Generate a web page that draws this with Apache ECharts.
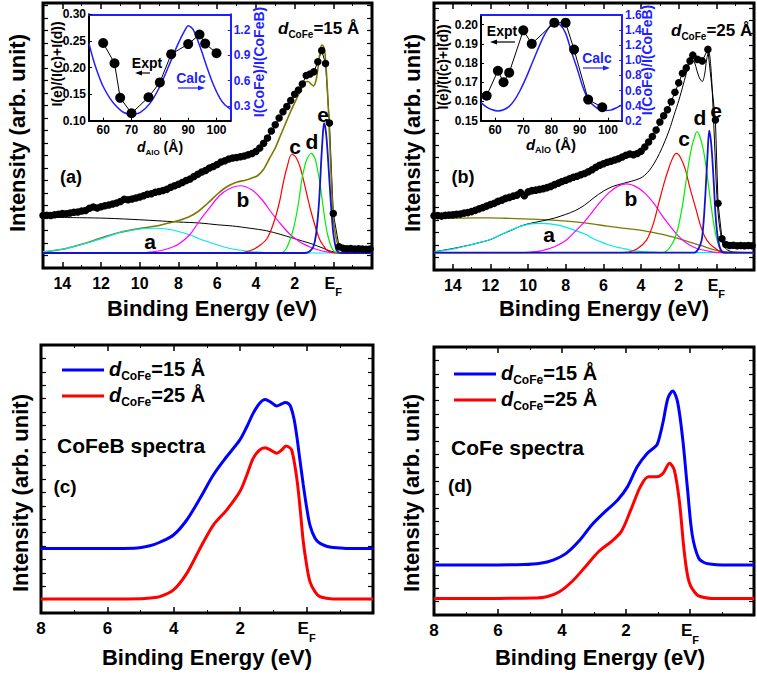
<!DOCTYPE html>
<html><head><meta charset="utf-8">
<script src="https://cdn.jsdelivr.net/npm/echarts@6/dist/echarts.min.js"></script>
<style>html,body{margin:0;padding:0;background:#fff}#c{width:757px;height:677px}</style>
</head><body><div id="c"></div>
<script>
// ---------- DATA ----------
// Panel (a): d_CoFe = 15 Å  [binding energy (eV), intensity (arb.)]
const dotsA = [[15.0,15.0],[14.8,15.1],[14.6,15.0],[14.4,15.3],[14.2,15.5],[14.0,15.8],[13.8,15.7],[13.6,16.0],[13.4,16.3],[13.2,16.4],[13.0,16.8],[12.8,17.0],[12.6,17.9],[12.4,18.4],[12.2,18.0],[12.0,18.5],[11.8,18.9],[11.6,19.2],[11.4,19.6],[11.2,20.0],[11.0,20.6],[10.8,21.5],[10.6,21.3],[10.4,21.6],[10.2,22.0],[10.0,22.4],[9.8,22.9],[9.6,23.5],[9.4,23.7],[9.2,24.3],[9.0,24.6],[8.8,25.0],[8.6,25.5],[8.4,26.3],[8.2,26.9],[8.0,27.5],[7.8,28.2],[7.6,29.0],[7.4,29.6],[7.2,30.6],[7.0,31.5],[6.8,32.4],[6.6,33.0],[6.4,34.0],[6.2,34.6],[6.0,35.4],[5.8,36.4],[5.6,36.9],[5.4,37.6],[5.2,38.0],[5.0,38.2],[4.8,38.5],[4.6,38.8],[4.4,39.3],[4.2,39.8],[4.0,40.6],[3.8,42.0],[3.6,43.9],[3.4,46.0],[3.2,48.8],[3.0,51.3],[2.8,54.0],[2.6,56.5],[2.4,58.6],[2.2,61.0],[2.0,63.5],[1.8,65.2],[1.6,67.6],[1.4,71.0],[1.2,71.6],[1.0,72.5],[0.8,76.5],[0.6,81.0],[0.4,75.8],[0.2,52.0],[0.0,15.8],[-0.3,2.5],[-0.5,1.9],[-0.7,1.7],[-0.9,1.8],[-1.1,1.6],[-1.3,1.7],[-1.5,1.6],[-1.7,1.5],[-1.9,1.6]];
const sumA = [[15,0.4],[14,1.5],[13,3.5],[12,6.0],[11,8.3],[10,9.8],[9.5,10.4],[9,11.0],[8.5,12.0],[8,13.0],[7.5,14.3],[7,16.5],[6.5,19.8],[6,23.5],[5.5,26.5],[5,28.3],[4.5,29.2],[4.2,30.0],[3.9,31.0],[3.6,33.5],[3.3,37.8],[3.0,42.0],[2.75,46.6],[2.5,51.2],[2.25,55.8],[2.0,60.0],[1.8,63.3],[1.6,66.5],[1.45,68.4],[1.3,68.6],[1.15,67.6],[1.03,66.8],[0.9,68.8],[0.8,73.5],[0.7,79.5],[0.6,83.2],[0.5,82.5],[0.43,79.9],[0.35,72.0],[0.26,58.5],[0.17,42.0],[0.08,25.2],[0,14.0],[-0.1,8.0],[-0.2,4.2],[-0.35,2.0],[-0.5,0.9],[-0.8,0.2],[-1.2,0],[-2,0]];
const bgA = [[15,14.3],[13,14.1],[11.7,13.9],[10,13.3],[9.1,12.9],[8,12.4],[6.9,12.0],[6,11.3],[5.2,10.8],[4.3,9.9],[3.45,8.9],[2.75,7.5],[2.07,5.9],[1.6,4.8],[1.21,3.9],[0.85,2.9],[0.52,1.9],[0.2,0.9],[0,0.5],[-0.35,0],[-2,0]];
const peakA_a = [[15,0.5],[14,1.5],[13.45,2.5],[12.5,4.5],[11.7,6.5],[10.9,8.5],[10,9.6],[9.4,9.9],[9.1,9.9],[8.3,9.2],[7.4,7.2],[6.9,5.6],[6.4,4.3],[5.9,3.0],[5.2,1.6],[4.3,0.6],[3.5,0.2],[2.5,0],[-2,0]];
const peakA_b = [[15,0],[10.5,0],[10,0.1],[9.2,0.6],[8.6,1.6],[8,3.5],[7.4,7.5],[6.9,13.0],[6.4,18.0],[5.9,22.8],[5.4,25.6],[4.8,26.9],[4.2,25.2],[3.7,21.5],[3.2,16.2],[2.6,10.5],[2.2,7.2],[1.7,4.3],[1.2,2.4],[0.8,1.3],[0.3,0.4],[0,0.1],[-0.5,0],[-2,0]];
const peakA_c = [[15,0],[5,0],[4.66,0.2],[4.2,1.2],[3.8,3.0],[3.45,5.5],[3.2,9.5],[2.93,15.9],[2.75,21.5],[2.59,27.9],[2.4,34.0],[2.15,39.5],[1.95,38.5],[1.72,34.5],[1.55,29.5],[1.38,23.9],[1.2,18.0],[1.03,13.2],[0.86,8.8],[0.69,5.2],[0.5,2.8],[0.34,1.2],[0.15,0.4],[0,0.1],[-0.3,0],[-2,0]];
const peakA_d = [[15,0],[3,0],[2.67,0.1],[2.45,1.5],[2.24,5.2],[2.05,10.0],[1.89,15.9],[1.75,22.5],[1.63,29.2],[1.5,34.0],[1.38,37.2],[1.15,39.9],[0.95,37.9],[0.82,33.5],[0.69,27.9],[0.56,20.5],[0.43,13.2],[0.3,7.5],[0.17,3.9],[0.04,1.5],[-0.09,0.4],[-0.3,0],[-2,0]];
const peakA_e = [[15,0],[1.6,0],[1.38,0.1],[1.2,0.8],[1.03,2.5],[0.9,7.0],[0.78,15.9],[0.7,25.0],[0.64,34.5],[0.56,45.0],[0.48,51.9],[0.41,50.0],[0.34,45.2],[0.25,35.0],[0.17,25.2],[0.08,15.0],[0,7.9],[-0.09,3.5],[-0.17,1.1],[-0.3,0.2],[-0.45,0],[-2,0]];

// Panel (b): d_CoFe = 25 Å
const dotsB = [[15.0,14.7],[14.8,14.8],[14.6,14.6],[14.4,14.9],[14.2,15.0],[14.0,15.1],[13.8,15.3],[13.6,15.4],[13.4,15.8],[13.2,16.0],[13.0,16.4],[12.8,16.9],[12.6,17.5],[12.4,18.0],[12.2,18.6],[12.0,19.2],[11.8,19.7],[11.6,20.5],[11.4,21.0],[11.2,21.7],[11.0,22.1],[10.8,22.6],[10.6,23.0],[10.4,24.0],[10.2,22.8],[10.0,24.3],[9.8,24.8],[9.6,25.0],[9.4,25.3],[9.2,25.6],[9.0,26.0],[8.8,26.5],[8.6,27.2],[8.4,27.8],[8.2,28.5],[8.0,29.0],[7.8,29.6],[7.6,30.2],[7.4,30.6],[7.2,31.2],[7.0,31.7],[6.8,32.4],[6.6,33.2],[6.4,34.2],[6.2,35.0],[6.0,35.6],[5.8,36.2],[5.6,36.6],[5.4,37.1],[5.2,37.6],[5.0,38.3],[4.8,39.0],[4.6,39.5],[4.4,39.2],[4.2,39.7],[4.0,40.6],[3.8,42.3],[3.6,44.3],[3.4,46.5],[3.2,49.1],[3.0,52.3],[2.8,54.8],[2.6,57.2],[2.4,60.4],[2.2,64.2],[2.0,68.0],[1.8,71.8],[1.6,74.0],[1.4,76.8],[1.25,79.1],[1.0,77.4],[0.75,76.8],[0.45,81.4],[0.05,53.1],[-0.09,19.7],[-0.3,5.5],[-0.5,3.2],[-0.7,2.8],[-0.9,2.9],[-1.1,2.7],[-1.3,2.8],[-1.5,2.7],[-1.7,2.8],[-1.9,2.7]];
const sumB = [[15,0.3],[14,1.6],[13,3.2],[12,5.2],[11.4,7.3],[10.8,9.2],[10.4,10.6],[10,11.5],[9.3,12.6],[8.6,13.8],[8,15.3],[7.5,16.8],[7,19.0],[6.5,22.0],[6,24.6],[5.5,26.5],[5,27.6],[4.5,28.6],[4.06,29.7],[3.8,31.0],[3.54,33.1],[3.3,35.8],[3.02,39.7],[2.75,44.3],[2.5,49.1],[2.25,55.0],[1.99,61.1],[1.75,67.5],[1.55,73.1],[1.4,76.3],[1.3,77.2],[1.15,76.0],[1.04,73.1],[0.9,70.0],[0.75,68.5],[0.62,71.5],[0.52,77.2],[0.4,80.5],[0.3,75.0],[0.22,65.1],[0.1,45.0],[-0.01,25.1],[-0.12,13.5],[-0.26,6.3],[-0.4,2.5],[-0.6,1.0],[-0.9,0.2],[-2,0]];
const bgB = [[15,13.6],[13.5,13.8],[12.1,13.9],[11,13.7],[9.5,13.3],[8.5,12.9],[7.5,12.3],[6.7,11.6],[5.8,10.6],[5,9.8],[4.06,9.0],[3.2,7.8],[2.33,6.3],[1.47,4.3],[1.0,3.2],[0.6,2.3],[0.2,1.3],[-0.26,0.6],[-0.6,0.2],[-1,0],[-2,0]];
const peakB_a = [[15,0.2],[14.5,0.8],[13.8,1.7],[13,3.2],[12.1,5.0],[11.4,7.3],[10.7,9.7],[9.96,11.4],[9.27,11.7],[8.41,11.0],[7.55,9.0],[6.86,7.0],[6.65,5.9],[6.2,4.5],[5.79,3.2],[5.3,2.2],[4.92,1.6],[4.5,0.9],[4.06,0.5],[3.5,0.2],[3,0],[-2,0]];
const peakB_b = [[15,0],[10.5,0],[10,0.1],[9.3,0.7],[8.6,2.3],[8.0,4.8],[7.6,7.7],[7.1,11.5],[6.7,15.2],[6.2,20.0],[5.7,24.0],[5.2,26.7],[4.77,27.5],[4.3,26.5],[3.8,23.8],[3.3,19.5],[2.9,15.0],[2.43,10.3],[2.0,6.5],[1.57,3.7],[1.1,1.8],[0.7,1.0],[0.3,0.4],[0,0.1],[-0.5,0],[-2,0]];
const peakB_c = [[15,0],[5,0],[4.66,0.2],[4.2,1.5],[3.71,5.0],[3.35,11.5],[3.02,21.0],[2.75,28.5],[2.5,34.4],[2.3,38.2],[2.12,39.7],[1.9,38.0],[1.64,33.1],[1.4,25.8],[1.12,18.4],[0.85,11.0],[0.61,6.3],[0.35,3.5],[0.09,1.9],[-0.1,0.8],[-0.35,0],[-2,0]];
const peakB_d = [[15,0],[3,0],[2.76,0.1],[2.33,3.7],[2.05,9.5],[1.81,18.4],[1.64,27.0],[1.47,35.7],[1.3,42.5],[1.15,46.5],[1.04,48.4],[0.9,47.0],[0.69,41.1],[0.55,34.5],[0.43,27.7],[0.3,20.0],[0.17,13.0],[0.04,7.5],[-0.09,3.7],[-0.22,1.2],[-0.34,0.2],[-0.5,0],[-2,0]];
const peakB_e = [[15,0],[1.3,0],[1.12,0.1],[0.95,1.5],[0.78,5.0],[0.67,13.0],[0.57,25.0],[0.47,39.0],[0.38,48.8],[0.3,45.5],[0.22,38.4],[0.13,27.0],[0.05,15.7],[-0.05,7.5],[-0.17,2.3],[-0.3,0.4],[-0.45,0],[-2,0]];

// Insets: d_AlO (Å) vs ratios
const exptA = [[60,0.246],[64,0.208],[66,0.143],[70,0.114],[76,0.144],[80,0.172],[84,0.225],[90,0.244],[94,0.262],[96,0.245],[100,0.227]];
const calcA = [[55,1.04],[56.5,0.85],[58.3,0.67],[60,0.53],[62.4,0.39],[64.8,0.29],[67.1,0.225],[70,0.20],[73,0.22],[76.5,0.33],[80,0.53],[83.6,0.81],[86.5,1.04],[88.9,1.20],[90,1.25],[91.8,1.20],[94.2,1.0],[96.5,0.77],[98.9,0.55],[101.2,0.39],[103,0.31],[105,0.26]];
const exptB = [[57,0.163],[61,0.176],[63,0.170],[65,0.175],[70,0.197],[73,0.190],[81,0.201],[85,0.201],[88,0.187],[93,0.161],[98,0.157]];
const calcB = [[55,0.44],[57,0.38],[59,0.345],[61,0.33],[63,0.345],[65,0.39],[67,0.48],[69,0.61],[71,0.77],[73,0.95],[75,1.13],[77,1.30],[79,1.43],[81,1.50],[83,1.47],[85,1.36],[87,1.12],[89,0.90],[91,0.66],[93,0.48],[95,0.40],[97,0.35],[99,0.335],[101,0.34],[103,0.37],[105,0.41]];

// Panel (c): CoFeB spectra ; Panel (d): CoFe spectra
const cofeb15 = [[8,24.1],[7,24.1],[6,24.1],[5.2,24.2],[4.72,25.1],[4.42,26.4],[4.01,29.1],[3.61,34.7],[3.21,42.8],[2.81,51.5],[2.41,58.3],[2.01,64.6],[1.8,69.5],[1.61,74.5],[1.42,78.2],[1.25,79.7],[1.07,78.6],[0.9,77.2],[0.75,78.0],[0.65,78.5],[0.55,78.2],[0.48,77.0],[0.38,72.5],[0.3,66.4],[0.2,57.0],[0.1,47.8],[0.0,39.5],[-0.1,32.8],[-0.25,28.0],[-0.4,26.0],[-0.6,24.9],[-0.8,24.4],[-1.2,24.1],[-2,24.1]];
const cofeb25 = [[8,5.2],[6,5.2],[5.0,5.3],[4.7,5.6],[4.42,6.1],[4.01,8.6],[3.61,14.8],[3.21,24.1],[2.81,32.8],[2.41,38.4],[2.01,45.3],[1.8,51.5],[1.61,57.7],[1.42,60.8],[1.25,61.7],[1.07,60.7],[0.9,59.6],[0.75,60.8],[0.62,62.3],[0.52,61.8],[0.45,60.8],[0.36,55.5],[0.27,47.8],[0.18,37.0],[0.10,26.6],[0.0,18.0],[-0.1,11.7],[-0.25,8.0],[-0.4,6.1],[-0.6,5.5],[-0.8,5.2],[-2,5.2]];
const cofe15 = [[8,18.7],[6,18.7],[5.19,18.8],[4.68,19.3],[4.28,20.5],[3.87,23.0],[3.47,27.6],[3.07,33.6],[2.66,38.5],[2.26,42.9],[1.95,47.9],[1.65,55.3],[1.34,60.3],[1.04,63.4],[0.94,67.0],[0.84,72.1],[0.69,80.9],[0.54,83.6],[0.39,79.6],[0.23,65.9],[0.08,47.3],[-0.07,29.9],[-0.27,21.2],[-0.45,19.5],[-0.68,18.9],[-1,18.7],[-2,18.7]];
const cofe25 = [[8,6.2],[6,6.2],[4.9,6.3],[4.48,6.8],[4.08,8.7],[3.67,12.7],[3.27,18.0],[2.86,23.6],[2.46,27.4],[2.15,31.1],[1.85,39.2],[1.55,47.9],[1.30,51.6],[1.04,51.6],[0.84,52.9],[0.64,56.6],[0.49,54.1],[0.33,42.3],[0.18,23.6],[0.03,12.4],[-0.22,7.5],[-0.45,6.5],[-0.68,6.2],[-2,6.2]];

const legendNames = ['15 Å', '25 Å'];

// ---------- CHART ----------
const FF = "'Liberation Sans', Arial, Helvetica, sans-serif";
const chart = echarts.init(document.getElementById('c'), null, {renderer: 'svg', width: 757, height: 677});

function efFmt(v) {
  if (v === 0) return '{e|E}{f|F}';
  if (v < 0 || Math.abs(v % 2) > 1e-9) return '';
  return '{n|' + v + '}';
}
function efRich(fs) {
  return {
    n: {fontSize: fs, fontWeight: 'bold', fontFamily: FF, color: '#000', lineHeight: fs + 2, verticalAlign: 'top'},
    e: {fontSize: fs, fontWeight: 'bold', fontFamily: FF, color: '#000', lineHeight: fs + 2, verticalAlign: 'top'},
    f: {fontSize: Math.round(fs * 0.66), fontWeight: 'bold', fontFamily: FF, color: '#000', lineHeight: Math.round(fs * 0.66), verticalAlign: 'top', padding: [Math.round(fs * 0.68), 0, 0, 0]}
  };
}

const xAxes = [], yAxes = [];
function mainAxes(gi, xmin, xmax, ymin, ymax, fs) {
  const base = {gridIndex: gi, type: 'value', min: xmin, max: xmax, inverse: true, interval: 2,
    axisLine: {show: false, onZero: false}, splitLine: {show: false},
    axisTick: {inside: true, length: 6, lineStyle: {color: '#000', width: 1.5}},
    minorTick: {show: true, splitNumber: 2, length: 3, lineStyle: {color: '#000', width: 1}}};
  xAxes.push(Object.assign({}, base, {position: 'bottom',
    axisLabel: {formatter: efFmt, margin: 7, rich: efRich(fs), showMaxLabel: true, showMinLabel: true}}));
  xAxes.push(Object.assign({}, base, {position: 'top', axisLabel: {show: false}}));
  const yb = {gridIndex: gi, type: 'value', min: ymin, max: ymax, interval: 5,
    axisLine: {show: false, onZero: false}, splitLine: {show: false}, axisLabel: {show: false},
    axisTick: {inside: true, length: 5, lineStyle: {color: '#000', width: 1.2}}};
  yAxes.push(Object.assign({}, yb, {position: 'left'}));
  yAxes.push(Object.assign({}, yb, {position: 'right'}));
}
mainAxes(0, -2, 15, -6, 100, 16);
mainAxes(1, -2, 15, -7, 100, 16);
mainAxes(2, -2, 8, 0, 100, 17);
mainAxes(3, -2, 8, 0, 100, 17);

function insetAxes(gi, lmin, lmax, lint, lfmt, rmin, rmax, rint, rfmt) {
  const lab = {fontSize: 12, fontWeight: 'bold', fontFamily: FF, color: '#000'};
  xAxes.push({gridIndex: gi, type: 'value', min: 55, max: 105, position: 'bottom', splitNumber: 5,
    axisLine: {show: true, onZero: false, lineStyle: {color: '#000', width: 2}},
    axisTick: {inside: true, length: 3, lineStyle: {color: '#000'}}, splitLine: {show: false},
    axisLabel: Object.assign({margin: 3, showMinLabel: false, showMaxLabel: false}, lab)});
  xAxes.push({gridIndex: gi, type: 'value', min: 55, max: 105, position: 'top', splitNumber: 5,
    axisLine: {show: true, onZero: false, lineStyle: {color: '#1f1fff', width: 2}},
    axisTick: {show: false}, splitLine: {show: false}, axisLabel: {show: false}});
  const yl = {gridIndex: gi, type: 'value', min: lmin, max: lmax, position: 'left',
    axisLine: {show: true, onZero: false, lineStyle: {color: '#000', width: 2}},
    axisTick: {inside: true, length: 3, lineStyle: {color: '#000'}}, splitLine: {show: false},
    axisLabel: Object.assign({margin: 3, formatter: lfmt, showMaxLabel: lmax < 0.25 ? false : true}, lab)};
  if (lint) yl.interval = lint;
  yAxes.push(yl);
  const yr = {gridIndex: gi, type: 'value', min: rmin, max: rmax, position: 'right',
    axisLine: {show: true, onZero: false, lineStyle: {color: '#1f1fff', width: 2}},
    axisTick: {inside: true, length: 3, lineStyle: {color: '#1f1fff'}}, splitLine: {show: false},
    axisLabel: Object.assign({}, lab, {margin: 3, color: '#1f1fff', formatter: rfmt})};
  if (rint) yr.interval = rint; else { yr.axisLabel.showMinLabel = false; yr.axisLabel.showMaxLabel = false; }
  yAxes.push(yr);
}
insetAxes(4, 0.10, 0.30, 0.05, v => v.toFixed(2), 0.125, 1.385, null, v => v.toFixed(1));
insetAxes(5, 0.15, 0.205, null, v => v.toFixed(2), 0.2, 1.6, 0.2, v => v.toFixed(1));

function ln(data, color, width, xi, yi, extra) {
  return Object.assign({type: 'line', data: data, xAxisIndex: xi, yAxisIndex: yi, symbol: 'none',
    smooth: 0.3, lineStyle: {color: color, width: width}, itemStyle: {color: color}, silent: true}, extra || {});
}
function dots(data, xi, yi, size) {
  return {type: 'line', data: data, xAxisIndex: xi, yAxisIndex: yi, symbol: 'circle', symbolSize: size,
    showSymbol: true, lineStyle: {color: '#000', width: 1}, itemStyle: {color: '#000'}, silent: true};
}
const C = {cyan: '#00e8e8', mag: '#ff00ff', red: '#ff0000', green: '#00ee00', blue: '#0000ff', olive: '#7a7a00'};
const series = [
  dots(dotsA, 0, 0, 7.5),
  ln(bgA, '#000', 1, 0, 0),
  ln(sumA, C.olive, 1.6, 0, 0),
  ln(peakA_a, C.cyan, 1.2, 0, 0),
  ln(peakA_b, C.mag, 1.2, 0, 0),
  ln(peakA_c, C.red, 1.2, 0, 0),
  ln(peakA_d, C.green, 1.2, 0, 0),
  ln(peakA_e, '#1414d0', 1.8, 0, 0),

  dots(dotsB, 2, 2, 7.5),
  ln(bgB, C.olive, 1.3, 2, 2),
  ln(sumB, '#000', 1, 2, 2),
  ln(peakB_a, C.cyan, 1.2, 2, 2),
  ln(peakB_b, C.mag, 1.2, 2, 2),
  ln(peakB_c, C.red, 1.2, 2, 2),
  ln(peakB_d, C.green, 1.2, 2, 2),
  ln(peakB_e, '#1414d0', 1.8, 2, 2),

  ln(cofeb15, '#0000ff', 3, 4, 4, {name: legendNames[0]}),
  ln(cofeb25, '#ff0000', 3, 4, 4, {name: legendNames[1]}),
  ln(cofe15, '#0000ff', 3, 6, 6, {name: legendNames[0]}),
  ln(cofe25, '#ff0000', 3, 6, 6, {name: legendNames[1]}),

  ln(calcA, '#1f1fff', 1.5, 9, 9),
  dots(exptA, 8, 8, 10),
  ln(calcB, '#1f1fff', 1.5, 11, 11),
  dots(exptB, 10, 10, 10)
];

const legRich = {
  d: {fontSize: 20, fontWeight: 'bold', fontStyle: 'italic', fontFamily: FF, color: '#000', lineHeight: 22, verticalAlign: 'top'},
  s: {fontSize: 12, fontWeight: 'bold', fontFamily: FF, color: '#000', lineHeight: 12, verticalAlign: 'top', padding: [11, 0, 0, 0]},
  t: {fontSize: 20, fontWeight: 'bold', fontFamily: FF, color: '#000', lineHeight: 22, verticalAlign: 'top'}
};
function legend(left, top) {
  return {data: legendNames, left: left, top: top, orient: 'vertical', icon: 'rect', itemWidth: 42, itemHeight: 3, itemGap: 3,
    selectedMode: false, formatter: n => '{d|d}{s|CoFe}{t|=' + n + '}', textStyle: {rich: legRich}};
}

function T(x, y, text, fs, opts) {
  opts = opts || {};
  return {type: 'text', x: x, y: y, rotation: opts.rot || 0, silent: true, z: 100,
    style: {text: text, fontSize: fs, fontWeight: 'bold', fontFamily: FF, fill: opts.color || '#000',
      align: opts.align || 'center', verticalAlign: opts.va || 'middle', rich: opts.rich}};
}
function dRich(fs, sub) {
  return {
    d: {fontSize: fs, fontWeight: 'bold', fontStyle: 'italic', fontFamily: FF, fill: '#000', color: '#000', lineHeight: fs + 2, verticalAlign: 'top'},
    s: {fontSize: sub, fontWeight: 'bold', fontFamily: FF, fill: '#000', color: '#000', lineHeight: sub, verticalAlign: 'top', padding: [Math.round(fs * 0.55), 0, 0, 0]},
    t: {fontSize: fs, fontWeight: 'bold', fontFamily: FF, fill: '#000', color: '#000', lineHeight: fs + 2, verticalAlign: 'top'}
  };
}
function arrow(x1, x2, y, color) {
  const dir = x2 > x1 ? 1 : -1;
  return [
    {type: 'line', silent: true, z: 100, shape: {x1: x1, y1: y, x2: x2 - dir * 4, y2: y}, style: {stroke: color, lineWidth: 1.2}},
    {type: 'polygon', silent: true, z: 100, shape: {points: [[x2, y], [x2 - dir * 7, y - 2.5], [x2 - dir * 7, y + 2.5]]}, style: {fill: color}}
  ];
}
const PI2 = Math.PI / 2;
const graphic = [
  T(17, 133, 'Intensity (arb. unit)', 22, {rot: PI2}),
  T(412, 133, 'Intensity (arb. unit)', 22, {rot: PI2}),
  T(20, 493, 'Intensity (arb. unit)', 22, {rot: PI2}),
  T(411, 493, 'Intensity (arb. unit)', 22, {rot: PI2}),
  T(212, 308, 'Binding Energy (eV)', 22),
  T(604, 308, 'Binding Energy (eV)', 22),
  T(207, 657, 'Binding Energy (eV)', 22),
  T(600, 657, 'Binding Energy (eV)', 22),
  T(71, 177, '(a)', 18), T(463, 177, '(b)', 18), T(65, 486, '(c)', 19), T(460, 485, '(d)', 19),
  T(57, 445, 'CoFeB spectra', 21, {align: 'left'}),
  T(451, 447, 'CoFe spectra', 21, {align: 'left'}),
  T(150, 241, 'a', 21), T(243, 199, 'b', 21), T(295, 146, 'c', 21), T(312, 141, 'd', 21), T(323, 114, 'e', 21),
  T(549, 234, 'a', 21), T(631, 198, 'b', 21), T(684, 138, 'c', 21), T(700, 117, 'd', 21), T(716, 110, 'e', 21),
  T(278, 20, '{d|d}{s|CoFe}{t|=15 Å}', 17, {align: 'left', va: 'top', rich: dRich(17, 10)}),
  T(671, 22, '{d|d}{s|CoFe}{t|=25 Å}', 17, {align: 'left', va: 'top', rich: dRich(17, 10)}),
  // inset (a)
  T(57, 64, 'I(e)/(I(c)+I(d))', 14, {rot: PI2}),
  T(259, 62, 'I(CoFe)/I(CoFeB)', 14, {rot: PI2, color: '#1f1fff'}),
  T(160, 140, '{d|d}{s|AlO}{t| (Å)}', 14, {va: 'top', rich: dRich(14, 8)}),
  T(147, 63, 'Expt', 14), T(191, 78, 'Calc', 14, {color: '#1f1fff'}),
  ...arrow(150, 135, 73, '#000'), ...arrow(178, 205, 88, '#1f1fff'),
  // inset (b)
  T(443, 67, 'I(e)/(I(c)+I(d))', 14, {rot: PI2}),
  T(647, 60, 'I(CoFe)/I(CoFeB)', 14, {rot: PI2, color: '#1f1fff'}),
  T(551, 137, '{d|d}{s|AlO}{t| (Å)}', 15, {va: 'top', rich: dRich(15, 9)}),
  T(502, 31, 'Expt', 14), T(597, 58, 'Calc', 14, {color: '#1f1fff'}),
  ...arrow(515, 490, 42, '#000'), ...arrow(583, 610, 68, '#1f1fff')
];

const gb = {show: true, borderColor: '#000', borderWidth: 3, backgroundColor: 'transparent'};
chart.setOption({
  animation: false,
  backgroundColor: '#fff',
  textStyle: {fontFamily: FF},
  grid: [
    Object.assign({left: 43, top: 3, width: 329, height: 265}, gb),
    Object.assign({left: 434, top: 3, width: 330, height: 267}, gb),
    Object.assign({left: 41, top: 345, width: 332, height: 268}, gb),
    Object.assign({left: 434, top: 347, width: 331, height: 268}, gb),
    {left: 89, top: 14.3, width: 141.7, height: 106.4, show: false},
    {left: 481, top: 15, width: 141, height: 105.7, show: false}
  ],
  xAxis: xAxes,
  yAxis: yAxes,
  legend: [legend(57, 354), legend(449, 358)],
  series: series,
  graphic: graphic
});
</script>
</body></html>
